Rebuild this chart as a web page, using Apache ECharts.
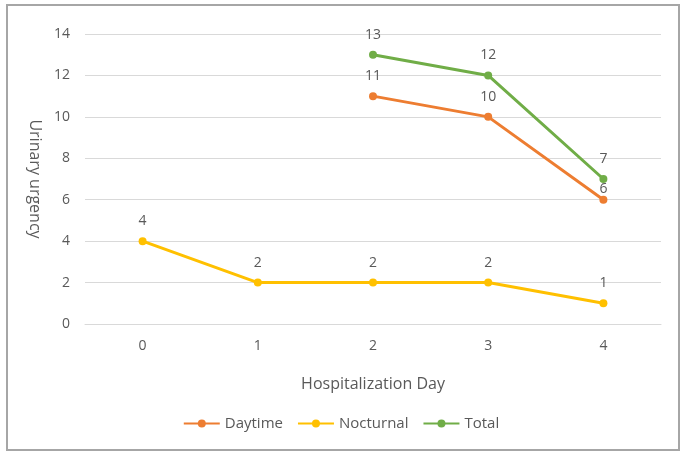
<!DOCTYPE html>
<html>
<head>
<meta charset="utf-8">
<script src="https://cdn.jsdelivr.net/npm/echarts@6/dist/echarts.min.js"></script>
<style>
  html, body { margin: 0; padding: 0; background: #fff; }
  #chart { width: 682px; height: 452px; }
</style>
</head>
<body>
<div id="chart"></div>
<script>
// Hospitalization days on the x axis
const days = ['0', '1', '2', '3', '4'];
// Urinary urgency episodes per day (null = not recorded)
const daytime = [null, null, 11, 10, 6];
const nocturnal = [4, 2, 2, 2, 1];
const total = [null, null, 13, 12, 7];

const FONT = 'Open Sans';
const TEXT = '#595959';

// labelTweaks: index -> label distance override (keeps crowded labels apart)
function lineSeries(name, data, color, labelTweaks) {
  const items = data.map((v, i) =>
    labelTweaks && labelTweaks[i] !== undefined
      ? { value: v, label: { distance: labelTweaks[i] } }
      : v
  );
  return {
    name: name,
    type: 'line',
    data: items,
    symbol: 'circle',
    symbolSize: 8,
    connectNulls: false,
    lineStyle: { width: 3, color: color },
    itemStyle: { color: color },
    label: {
      show: true,
      position: 'top',
      distance: 9,
      color: TEXT,
      fontFamily: FONT,
      fontSize: 14
    }
  };
}

const chart = echarts.init(document.getElementById('chart'), null, { renderer: 'canvas' });
chart.setOption({
  animation: false,
  backgroundColor: '#fff',
  graphic: [{
    type: 'rect',
    shape: { x: 7, y: 5, width: 672, height: 445 },
    style: { fill: 'none', stroke: '#A6A6A6', lineWidth: 2 },
    z: 100
  }],
  grid: { left: 85, right: 21, top: 34, bottom: 128 },
  legend: {
    bottom: 16,
    left: 'center',
    itemWidth: 36,
    itemHeight: 10,
    itemGap: 14,
    textStyle: { color: TEXT, fontFamily: FONT, fontSize: 15 },
    data: ['Daytime', 'Nocturnal', 'Total']
  },
  xAxis: {
    type: 'category',
    data: days,
    boundaryGap: true,
    name: 'Hospitalization Day',
    nameLocation: 'middle',
    nameGap: 52,
    nameTextStyle: { color: TEXT, fontFamily: FONT, fontSize: 16 },
    axisLine: { show: true, lineStyle: { color: '#D9D9D9', width: 1 } },
    axisTick: { show: false },
    axisLabel: { color: TEXT, fontFamily: FONT, fontSize: 14, margin: 15 }
  },
  yAxis: {
    type: 'value',
    min: 0,
    max: 14,
    interval: 2,
    name: 'Urinary urgency',
    nameLocation: 'middle',
    nameRotate: -90,
    nameGap: 42,
    nameTextStyle: { color: TEXT, fontFamily: FONT, fontSize: 16 },
    axisLine: { show: false },
    axisTick: { show: false },
    axisLabel: { color: TEXT, fontFamily: FONT, fontSize: 14, margin: 15 },
    splitLine: { lineStyle: { color: '#D9D9D9', width: 1 } }
  },
  series: [
    lineSeries('Daytime', daytime, '#ED7D31', { 4: 0 }),
    lineSeries('Nocturnal', nocturnal, '#FFC000'),
    lineSeries('Total', total, '#70AD47')
  ]
});
</script>
</body>
</html>
